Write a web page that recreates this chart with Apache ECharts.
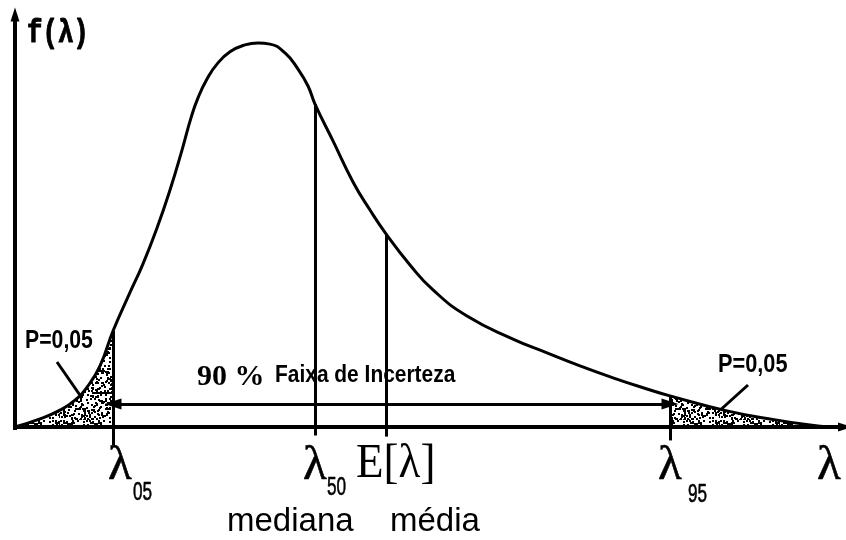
<!DOCTYPE html>
<html>
<head>
<meta charset="utf-8">
<title>f(λ)</title>
<script src="https://cdn.jsdelivr.net/npm/echarts@6/dist/echarts.min.js"></script>
<style>
  html, body { margin: 0; padding: 0; background: #fff; }
  #chart { width: 846px; height: 540px; }
</style>
</head>
<body>
<div id="chart"></div>
<script>
// Density curve f(λ), skewed to the right
const lambdaVals = [0, 0.3125, 0.5625, 0.75, 0.9125, 1.0625, 1.225, 1.4125, 1.6, 1.775,
  1.9375, 2.0875, 2.2, 2.2875, 2.4, 2.525, 2.6875, 2.875, 3.0375, 3.1875,
  3.375, 3.5375, 3.6625, 3.75, 3.975, 4.225, 4.4375, 4.6375, 4.9375, 5.225,
  5.65, 6.225, 6.65, 7.0625, 7.475, 7.9, 8.1875, 8.9, 9.4375, 9.9375, 10.1875];
const densityVals = [0, 0.021, 0.044, 0.070, 0.107, 0.159, 0.250, 0.339, 0.425, 0.518,
  0.617, 0.721, 0.805, 0.857, 0.906, 0.945, 0.977, 0.995, 1.000, 0.997,
  0.974, 0.932, 0.888, 0.841, 0.745, 0.638, 0.565, 0.503, 0.422, 0.357,
  0.289, 0.229, 0.193, 0.159, 0.128, 0.099, 0.081, 0.042, 0.021, 0.005, 0];

// Percentiles and mean
const markerNames = ['05', '50', 'E', '95'];
const markerVals = [1.225, 3.75, 4.6375, 8.1875];
const tailProb = '0,05';
const bandLabel = 'Faixa de Incerteza';
const bandPct = '90 %';

const X_MAX = 10.375, Y_MIN = -0.0625, Y_MAX = 1.083333;

const curve = lambdaVals.map((x, i) => [x, densityVals[i]]);
const densityAt = x => densityVals[lambdaVals.indexOf(x)];
const q05 = markerVals[0], q50 = markerVals[1], qMean = markerVals[2], q95 = markerVals[3];
const leftTail = curve.filter(p => p[0] <= q05);
const rightTail = curve.filter(p => p[0] >= q95);

// Stippled texture for the tail areas
function stipple() {
  const n = 60;
  const c = document.createElement('canvas');
  c.width = n; c.height = n;
  const g = c.getContext('2d');
  g.fillStyle = '#fff';
  g.fillRect(0, 0, n, n);
  g.fillStyle = '#000';
  for (let y = 0; y < n; y += 2) {
    for (let x = 0; x < n; x += 2) {
      const h = (x * 17 + y * 31 + ((x * y) >> 3) + ((x ^ y) * 5)) % 13;
      if (h < 6) g.fillRect(x + (h % 2), y + ((h >> 1) % 2), 2, 2);
    }
  }
  return c;
}
const dots = { image: stipple(), repeat: 'repeat' };

const vline = (x, yBottom, yTop, w) => [
  { coord: [x, yBottom], symbol: 'none', lineStyle: { width: w || 3 } },
  { coord: [x, yTop], symbol: 'none' }
];

const chart = echarts.init(document.getElementById('chart'), null, { renderer: 'canvas' });

const lineSeries = (name, data, extra) => Object.assign({
  name: name, type: 'line', data: data, smooth: 0.5,
  symbol: 'none', silent: true
}, extra);

chart.setOption({
  animation: false,
  backgroundColor: '#fff',
  grid: { left: 15, top: 11, width: 830, height: 440 },
  xAxis: { type: 'value', min: 0, max: X_MAX, show: false },
  yAxis: { type: 'value', min: Y_MIN, max: Y_MAX, show: false },
  series: [
    lineSeries('leftTail', leftTail, { lineStyle: { width: 0 }, areaStyle: { color: dots, opacity: 1, origin: 0 } }),
    lineSeries('rightTail', rightTail, { lineStyle: { width: 0 }, areaStyle: { color: dots, opacity: 1, origin: 0 } }),
    lineSeries('f', curve, {
      clip: false,
      lineStyle: { color: '#000', width: 3 },
      markLine: {
        silent: true,
        symbol: 'none',
        label: { show: false },
        emphasis: { disabled: true },
        lineStyle: { color: '#000', type: 'solid', width: 3 },
        data: [
          // axes
          [{ coord: [0, -0.008], symbol: 'none', lineStyle: { width: 4 } },
           { coord: [0, 1.074], symbol: 'triangle', symbolSize: [9, 14] }],
          [{ coord: [0, 0], symbol: 'none', lineStyle: { width: 4 } },
           { coord: [X_MAX, 0], symbol: 'triangle', symbolSize: [9, 14] }],
          // percentile and mean lines with ticks below the axis
          vline(q05, -0.047, densityAt(q05)),
          vline(q50, -0.022, densityAt(q50)),
          vline(qMean, -0.025, densityAt(qMean)),
          vline(q95, -0.035, densityAt(q95)),
          // 90 % band
          [{ coord: [q05, 0.06], symbol: 'triangle', symbolSize: [11, 17], lineStyle: { width: 3 } },
           { coord: [q95, 0.06], symbol: 'triangle', symbolSize: [11, 17] }]
        ]
      }
    })
  ]
});

// Text labels placed from the data positions
const px = (x, y) => chart.convertToPixel({ gridIndex: 0 }, [x, y]);
const txt = (text, x, y, font, opts, styleExtra) => Object.assign({
  type: 'text', x: x, y: y, silent: true,
  style: Object.assign({ text: text, font: font, fill: '#000', textAlign: 'left', textVerticalAlign: 'top' }, styleExtra || {})
}, opts || {});

const serif = '"Liberation Serif", "Times New Roman", serif';
const sans = '"Liberation Sans", Arial, sans-serif';
const mono = '"Liberation Mono", "Courier New", monospace';

const p05 = px(q05, 0), p50 = px(q50, 0), pMean = px(qMean, 0), p95 = px(q95, 0), pEnd = px(X_MAX, 0);
const lam = (cx) => txt('λ', cx, 442, '49px ' + serif, null,
  { textAlign: 'center', stroke: '#000', lineWidth: 0.6 });
const sub = (s, x, y) => txt(s, x, y, '26px ' + sans, { scaleX: 0.66 }, { stroke: '#000', lineWidth: 0.6 });

const graphics = [
  txt('f(λ)', 27, 17, 'bold 33px ' + mono, { scaleX: 0.78 }, { stroke: '#000', lineWidth: 1 }),
  lam(p05[0] + 7), sub(markerNames[0], p05[0] + 20, 480),
  lam(p50[0]), sub(markerNames[1], p50[0] + 12, 475),
  lam(p95[0]), sub(markerNames[3], p95[0] + 18, 482),
  lam(pEnd[0] - 16),
  txt('E[λ]', pMean[0] - 30, 440, '49px ' + serif, { scaleX: 0.92 }),
  txt('mediana', p50[0] - 88, 505, '33px ' + sans),
  txt('média', pMean[0] + 4, 505, '33px ' + sans),
  txt('P=' + tailProb, 25, 329, 'bold 25px ' + sans, { scaleX: 0.85 }),
  txt('P=' + tailProb, 718, 353, 'bold 25px ' + sans, { scaleX: 0.87 }),
  txt(bandPct, 197, 362, 'bold 30px ' + serif),
  txt(bandLabel, 275, 364, 'bold 23px ' + sans, { scaleX: 0.91 }),
  // leader lines to the tail areas
  { type: 'line', silent: true, shape: { x1: 57, y1: 362, x2: 84, y2: 401 }, style: { stroke: '#000', lineWidth: 3 } },
  { type: 'line', silent: true, shape: { x1: 748, y1: 385, x2: 717, y2: 413 }, style: { stroke: '#000', lineWidth: 3 } }
];

chart.setOption({ graphic: graphics });
</script>
</body>
</html>
